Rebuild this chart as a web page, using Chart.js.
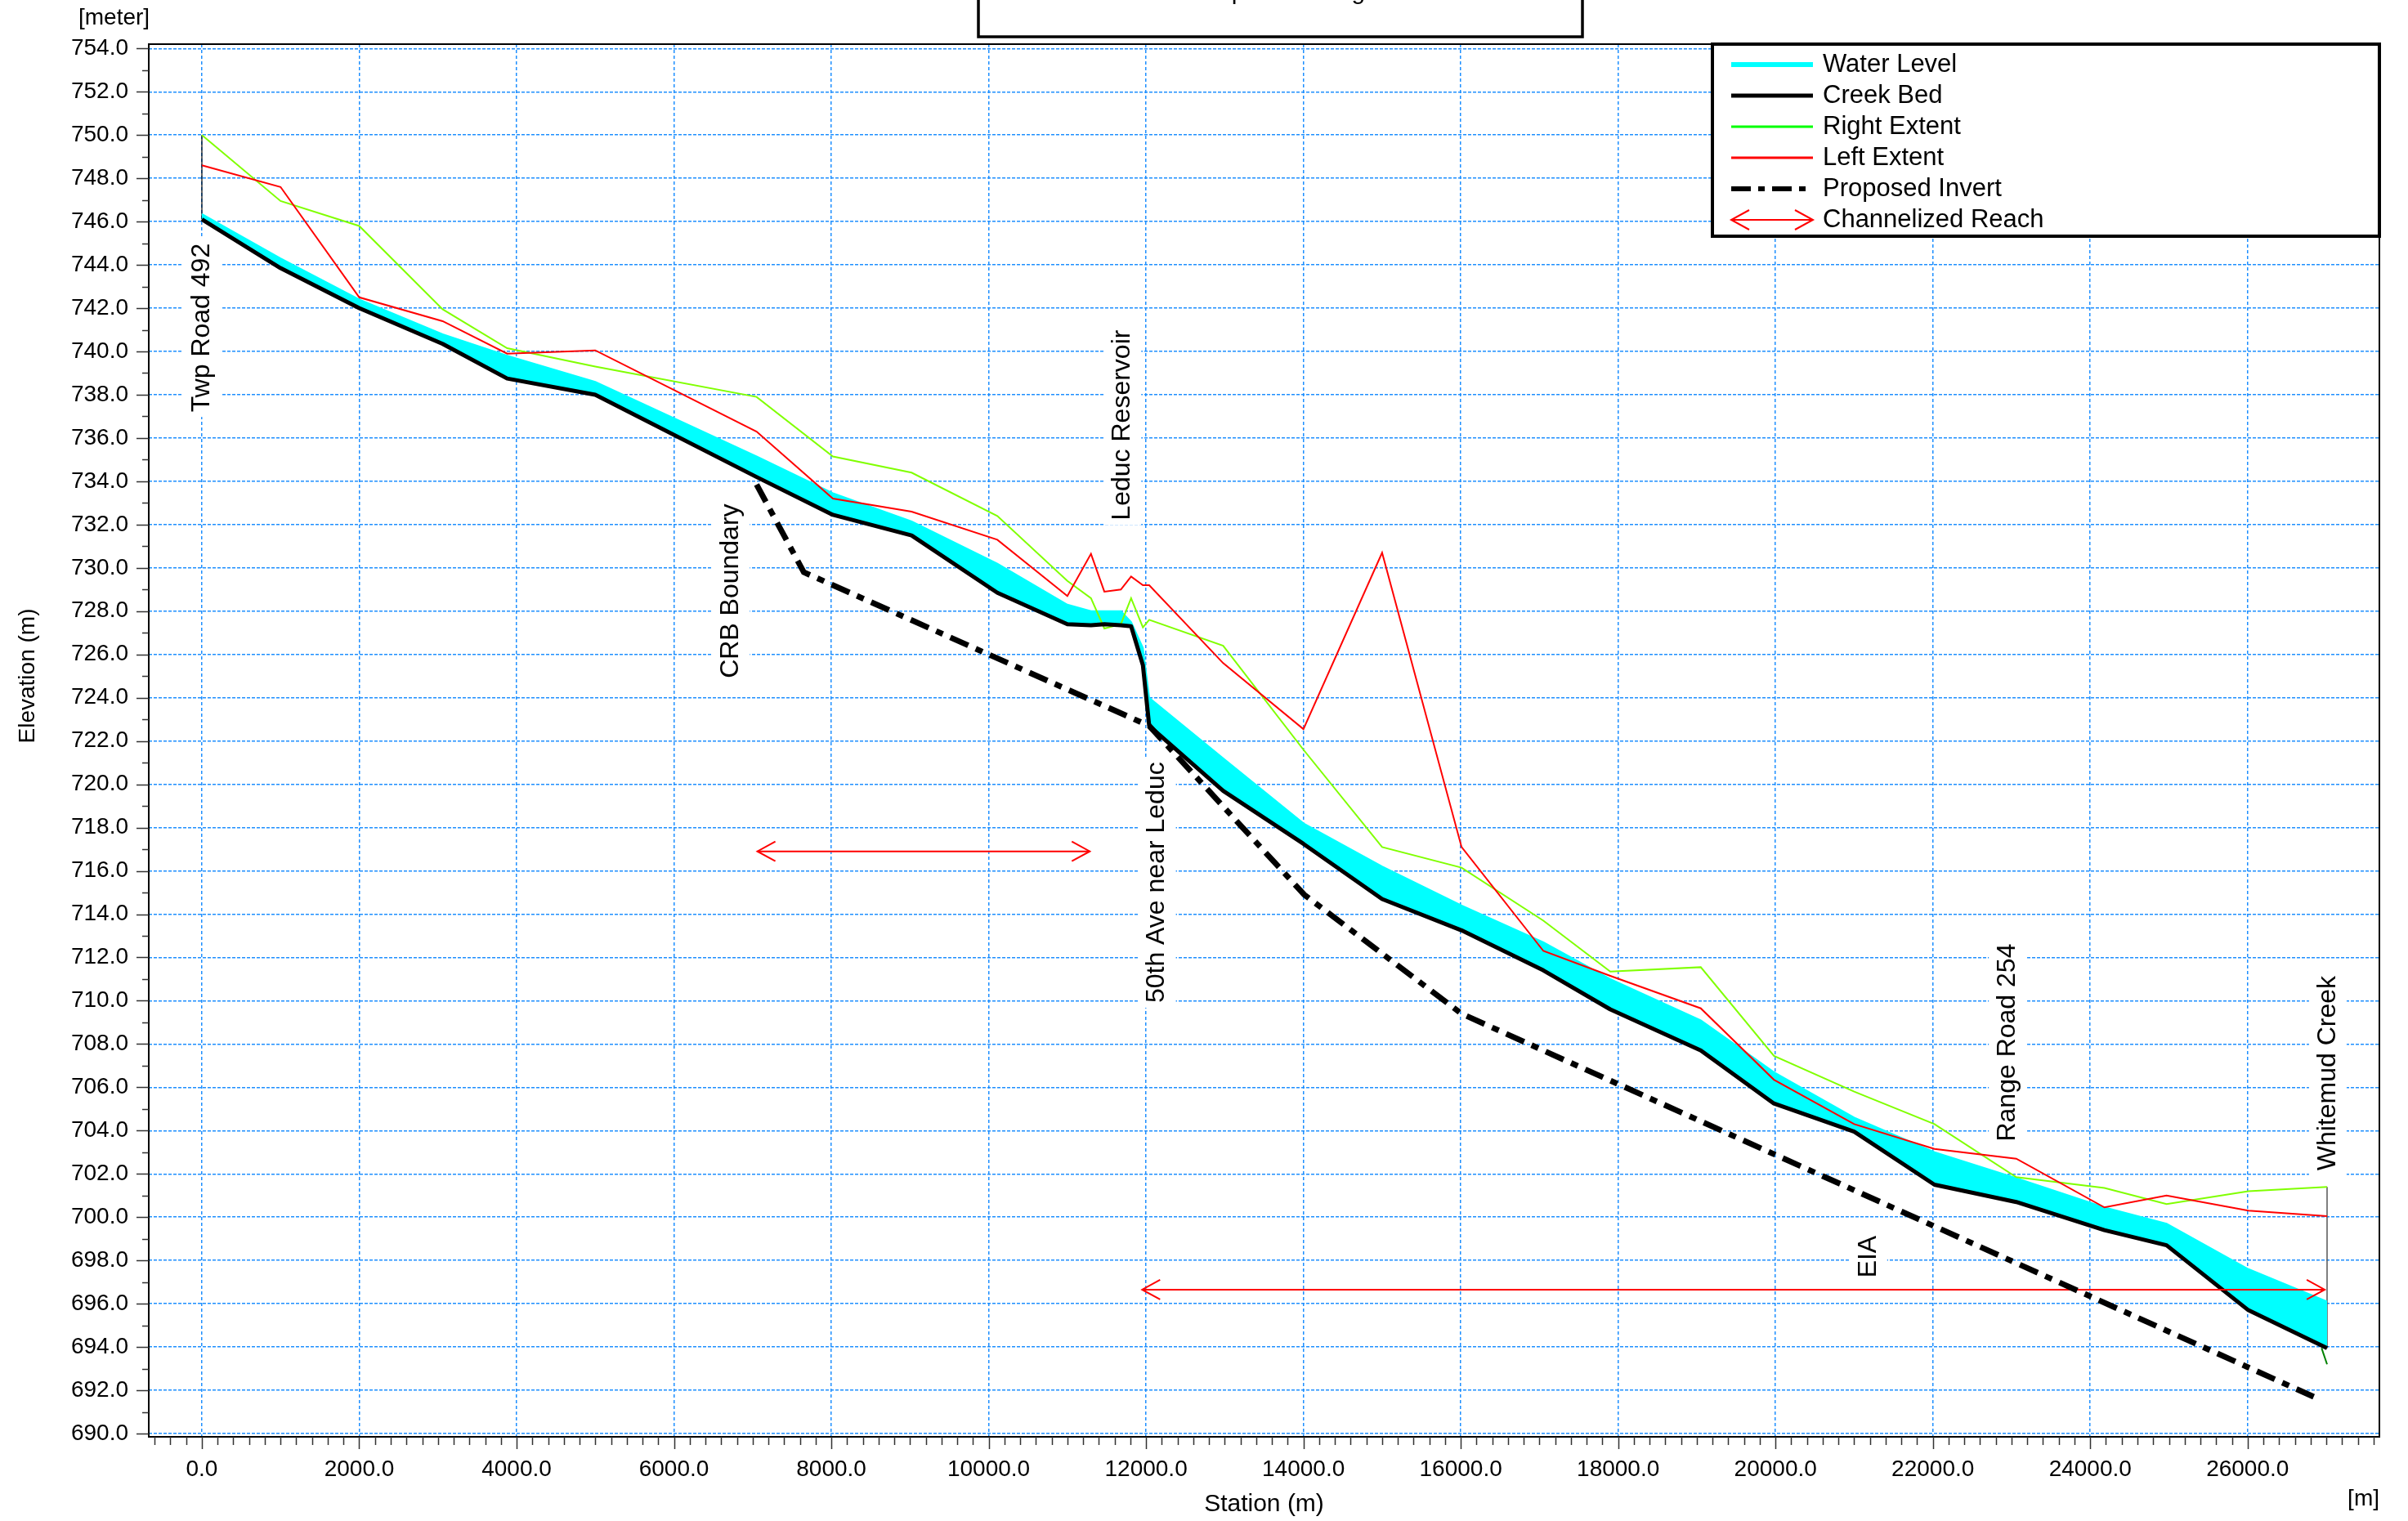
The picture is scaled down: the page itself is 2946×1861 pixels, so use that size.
<!DOCTYPE html>
<html>
<head>
<meta charset="utf-8">
<title>Creek profile</title>
<script src="https://cdn.jsdelivr.net/npm/chart.js@4.4.1/dist/chart.umd.min.js"></script>
<style>
  html, body { margin: 0; padding: 0; background: #fff; }
  #wrap { width: 2946px; height: 1861px; position: relative; }
</style>
</head>
<body>
<div id="wrap"><canvas id="profile"></canvas></div>
<script>
/* ---- profile data (station in m, elevation in m) ---- */
const stations    = [0, 1000, 2000, 3060, 3880, 5000, 7050, 8020, 9020, 10110, 11000, 11300, 11470, 11680, 11810, 11960, 12040, 12980, 14000, 15000, 16010, 17050, 17900, 19050, 19980, 21000, 22020, 23060, 24180, 24970, 26010, 27010];
const waterLevel  = [746.35, 744.3, 742.4, 740.8, 739.8, 738.6, 735.15, 733.45, 732.15, 730.2, 728.3, 728.0, 728.0, 728.0, 727.5, 726.3, 724.0, 721.2, 718.2, 716.2, 714.4, 712.7, 711.0, 709.1, 706.7, 704.6, 703.0, 701.8, 700.45, 699.7, 697.6, 696.1];
const creekBed    = [746.1, 743.85, 742.0, 740.35, 738.75, 738.0, 734.2, 732.45, 731.5, 728.85, 727.4, 727.35, 727.4, 727.35, 727.3, 725.5, 722.7, 719.7, 717.25, 714.7, 713.25, 711.4, 709.6, 707.7, 705.25, 703.95, 701.5, 700.7, 699.4, 698.7, 695.7, 693.95];
const rightExtent = [750.0, 746.95, 745.8, 741.95, 740.15, 739.3, 737.9, 735.15, 734.4, 732.4, 729.4, 728.6, 727.2, 727.4, 728.6, 727.25, 727.6, 726.4, 721.6, 717.1, 716.15, 713.7, 711.35, 711.55, 707.45, 705.8, 704.3, 701.85, 701.35, 700.6, 701.2, 701.4];
const leftExtent  = [748.6, 747.6, 742.5, 741.4, 739.9, 740.05, 736.3, 733.2, 732.6, 731.3, 728.7, 730.65, 728.9, 729.0, 729.6, 729.2, 729.2, 725.6, 722.55, 730.7, 717.1, 712.3, 711.15, 709.65, 706.35, 704.3, 703.15, 702.7, 700.45, 701.0, 700.3, 700.05];

const invertStations = [7050, 7650, 12040, 14010, 16010, 26840];
const invertLevels   = [733.85, 729.8, 722.7, 714.9, 709.4, 691.7];

const toeStations = [26940, 27010];
const toeLevels   = [693.95, 693.2];

/* channelized reaches (double arrows) */
const reachFrom  = [7060, 11950];
const reachTo    = [11285, 26980];
const reachLevel = [716.9, 696.65];

/* vertical location labels: station and elevation where the text starts */
const markNames    = ['Twp Road 492', 'CRB Boundary', 'Leduc Reservoir', '50th Ave near Leduc', 'EIA', 'Range Road 254', 'Whitemud Creek'];
const markStations = [0, 6725, 11700, 12140, 21180, 22950, 27020];
const markBase     = [737.2, 724.9, 732.2, 709.9, 697.2, 703.5, 702.15];

const xTickValues = [0, 2000, 4000, 6000, 8000, 10000, 12000, 14000, 16000, 18000, 20000, 22000, 24000, 26000];
const yTickValues = [690, 692, 694, 696, 698, 700, 702, 704, 706, 708, 710, 712, 714, 716, 718, 720, 722, 724, 726, 728, 730, 732, 734, 736, 738, 740, 742, 744, 746, 748, 750, 752, 754];

const legendLabels = ['Water Level', 'Creek Bed', 'Right Extent', 'Left Extent', 'Proposed Invert', 'Channelized Reach'];

/* ---- styling ---- */
const FONT  = '"Liberation Sans", Arial, sans-serif';
const GRID  = '#1e8fff';
const CYAN  = '#00ffff';
const GREEN = '#80ff00';
const RED   = '#ff0000';

const pts = (xs, ys) => xs.map((x, i) => ({ x: x, y: ys[i] }));
const last = stations.length - 1;

const datasets = [
  { label: 'Proposed Invert', data: pts(invertStations, invertLevels), borderColor: '#000', borderWidth: 7, borderDash: [24, 10, 9, 10], borderCapStyle: 'butt' },
  { label: 'Channelized Reach', data: [{ x: reachFrom[0], y: reachLevel[0] }, { x: reachTo[0], y: reachLevel[0] }], borderColor: RED, borderWidth: 2 },
  { label: 'Channelized Reach', data: [{ x: reachFrom[1], y: reachLevel[1] }, { x: reachTo[1], y: reachLevel[1] }], borderColor: RED, borderWidth: 2 },
  { label: 'Creek Bed', data: pts(stations, creekBed), borderColor: '#000', borderWidth: 5, borderJoinStyle: 'round' },
  { label: 'Left Extent', data: pts(stations, leftExtent), borderColor: RED, borderWidth: 2 },
  { label: 'Right Extent', data: pts(stations, rightExtent), borderColor: GREEN, borderWidth: 2 },
  { label: 'Water Level', data: pts(stations, waterLevel), borderColor: CYAN, borderWidth: 2, backgroundColor: CYAN, fill: 3 },
  { label: 'Section start', data: [{ x: stations[0], y: creekBed[0] }, { x: stations[0], y: Math.max(rightExtent[0], leftExtent[0]) }], borderColor: '#000', borderWidth: 1.2 },
  { label: 'Section end', data: [{ x: stations[last], y: creekBed[last] }, { x: stations[last], y: Math.max(rightExtent[last], leftExtent[last]) }], borderColor: '#555', borderWidth: 1.5 },
  { label: 'Toe', data: pts(toeStations, toeLevels), borderColor: '#008000', borderWidth: 2 }
];

function arrowHead(ctx, x, y, dir) {
  ctx.beginPath();
  ctx.moveTo(x - dir * 22, y - 12);
  ctx.lineTo(x, y);
  ctx.lineTo(x - dir * 22, y + 12);
  ctx.stroke();
}

const profileDecor = {
  id: 'profileDecor',

  /* location labels sit above the grid but under the data */
  beforeDatasetsDraw(chart) {
    const { ctx, scales: { x, y } } = chart;
    ctx.save();
    ctx.font = '32px ' + FONT;
    markNames.forEach((name, i) => {
      const px = x.getPixelForValue(markStations[i]);
      const py = y.getPixelForValue(markBase[i]);
      const w = ctx.measureText(name).width;
      ctx.save();
      ctx.translate(px, py);
      ctx.rotate(-Math.PI / 2);
      ctx.fillStyle = '#fff';
      ctx.fillRect(-6, -23, w + 12, 46);
      ctx.fillStyle = '#000';
      ctx.textBaseline = 'middle';
      ctx.textAlign = 'left';
      ctx.fillText(name, 0, 0);
      ctx.restore();
    });
    ctx.restore();
  },

  afterDatasetsDraw(chart) {
    const { ctx } = chart;
    ctx.save();
    ctx.strokeStyle = RED;
    ctx.lineWidth = 2;
    [1, 2].forEach((idx) => {
      const d = chart.getDatasetMeta(idx).data;
      arrowHead(ctx, d[0].x, d[0].y, -1);
      arrowHead(ctx, d[1].x, d[1].y, 1);
    });
    ctx.restore();
  },

  afterDraw(chart) {
    const { ctx, chartArea: a, scales: { x, y } } = chart;
    ctx.save();

    // plot frame
    ctx.strokeStyle = '#000';
    ctx.lineWidth = 2;
    ctx.strokeRect(a.left, a.top, a.right - a.left, a.bottom - a.top);

    // x ticks: minor every 200 m, major every 2000 m
    ctx.strokeStyle = '#333';
    ctx.lineWidth = 1.5;
    ctx.beginPath();
    for (let v = -600; v <= 27600; v += 200) {
      const px = Math.round(x.getPixelForValue(v)) + 0.5;
      ctx.moveTo(px, a.bottom);
      ctx.lineTo(px, a.bottom + (v % 2000 === 0 ? 15 : 10));
    }
    // y ticks: minor every 1 m, major every 2 m
    for (let v = 690; v <= 754; v += 1) {
      const py = Math.round(y.getPixelForValue(v)) + 0.5;
      ctx.moveTo(a.left - (v % 2 === 0 ? 15 : 8), py);
      ctx.lineTo(a.left, py);
    }
    ctx.stroke();

    // unit labels and y title
    ctx.fillStyle = '#000';
    ctx.font = '28px ' + FONT;
    ctx.textBaseline = 'middle';
    ctx.textAlign = 'left';
    ctx.fillText('[meter]', 96, 22);
    ctx.textAlign = 'right';
    ctx.fillText('[m]', a.right, 1834);
    ctx.save();
    ctx.translate(34, 827);
    ctx.rotate(-Math.PI / 2);
    ctx.textAlign = 'center';
    ctx.fillText('Elevation (m)', 0, 0);
    ctx.restore();

    // title box, mostly above the picture
    ctx.lineWidth = 3.5;
    ctx.strokeStyle = '#000';
    ctx.fillStyle = '#fff';
    ctx.fillRect(1197, -10, 739, 55);
    ctx.strokeRect(1197, -10, 739, 55);
    ctx.fillStyle = '#000';
    ctx.font = '30px ' + FONT;
    ctx.textAlign = 'center';
    ctx.textBaseline = 'alphabetic';
    ctx.fillText('Flood profile along Creek', 1591, -1);

    // legend
    const lx = 2095, ly = 54, lw = 816, lh = 235;
    ctx.fillStyle = '#fff';
    ctx.fillRect(lx, ly, lw, lh);
    ctx.lineWidth = 4;
    ctx.strokeStyle = '#000';
    ctx.strokeRect(lx, ly, lw, lh);
    const sx1 = 2118, sx2 = 2218;
    legendLabels.forEach((label, i) => {
      const ry = 79 + i * 38;
      ctx.save();
      ctx.lineCap = 'butt';
      if (i === 0) { ctx.strokeStyle = CYAN; ctx.lineWidth = 6; }
      if (i === 1) { ctx.strokeStyle = '#000'; ctx.lineWidth = 5; }
      if (i === 2) { ctx.strokeStyle = '#00ff00'; ctx.lineWidth = 3; }
      if (i === 3) { ctx.strokeStyle = RED; ctx.lineWidth = 3; }
      if (i === 4) { ctx.strokeStyle = '#000'; ctx.lineWidth = 6; ctx.setLineDash([24, 9, 8, 9]); }
      if (i === 5) { ctx.strokeStyle = RED; ctx.lineWidth = 2; }
      ctx.beginPath();
      ctx.moveTo(sx1, ry);
      ctx.lineTo(sx2, ry);
      ctx.stroke();
      if (i === 5) {
        arrowHead(ctx, sx1, ry, -1);
        arrowHead(ctx, sx2, ry, 1);
      }
      ctx.restore();
      ctx.fillStyle = '#000';
      ctx.font = '31px ' + FONT;
      ctx.textAlign = 'left';
      ctx.textBaseline = 'middle';
      ctx.fillText(label, 2230, ry);
    });

    ctx.restore();
  }
};

new Chart(document.getElementById('profile'), {
  type: 'line',
  data: { datasets: datasets },
  options: {
    responsive: true,
    maintainAspectRatio: false,
    animation: false,
    devicePixelRatio: 1,
    events: [],
    layout: { padding: { top: 54, right: 35, bottom: 0, left: 0 } },
    plugins: { legend: { display: false }, tooltip: { enabled: false } },
    elements: { point: { radius: 0 }, line: { tension: 0 } },
    scales: {
      x: {
        type: 'linear',
        min: -675,
        max: 27675,
        afterBuildTicks: (s) => { s.ticks = xTickValues.map((v) => ({ value: v })); },
        afterFit: (s) => { s.height = 103; },
        grid: { color: GRID, lineWidth: 1.5, drawTicks: false },
        border: { display: false, dash: [4, 3] },
        ticks: {
          callback: (v) => Number(v).toFixed(1),
          font: { family: FONT, size: 28 },
          color: '#000',
          padding: 23,
          maxRotation: 0,
          autoSkip: false
        },
        title: {
          display: true,
          text: 'Station (m)',
          font: { family: FONT, size: 30 },
          color: '#000',
          padding: { top: 0, bottom: 2 }
        }
      },
      y: {
        type: 'linear',
        min: 689.85,
        max: 754.2,
        afterBuildTicks: (s) => { s.ticks = yTickValues.map((v) => ({ value: v })); },
        afterFit: (s) => { s.width = 182; },
        grid: { color: GRID, lineWidth: 1.5, drawTicks: false },
        border: { display: false, dash: [4, 2] },
        ticks: {
          callback: (v) => Number(v).toFixed(1),
          font: { family: FONT, size: 28 },
          color: '#000',
          padding: 25,
          autoSkip: false
        }
      }
    }
  },
  plugins: [profileDecor]
});
</script>
</body>
</html>
